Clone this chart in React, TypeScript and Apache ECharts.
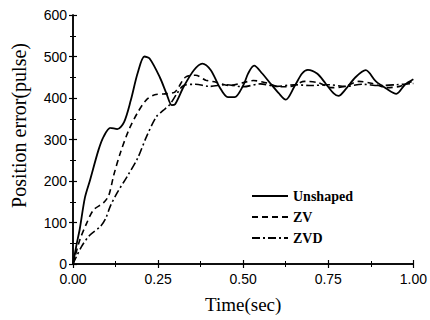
import React, { useEffect, useRef } from "react";
import * as echarts from "echarts";

const unshapedT = [0, 0.01, 0.02, 0.035, 0.05, 0.075, 0.09, 0.11, 0.13, 0.15, 0.17, 0.19, 0.21, 0.225, 0.255, 0.275, 0.29, 0.3, 0.325, 0.355, 0.38, 0.405, 0.43, 0.455, 0.475, 0.5, 0.515, 0.532, 0.556, 0.58, 0.605, 0.625, 0.65, 0.673, 0.69, 0.717, 0.742, 0.766, 0.78, 0.8, 0.83, 0.86, 0.89, 0.92, 0.95, 0.975, 1.0];
const unshapedY = [0, 45, 85, 160, 202, 275, 307, 328, 325, 342, 395, 460, 500, 495, 450, 410, 383, 385, 427, 467, 483, 467, 427, 402, 402, 430, 460, 478, 459, 435, 411, 396, 427, 459, 468, 459, 435, 411, 405, 420, 450, 467, 440, 423, 410, 432, 445];

const zvT = [0, 0.006, 0.02, 0.04, 0.06, 0.09, 0.105, 0.12, 0.14, 0.165, 0.19, 0.215, 0.24, 0.27, 0.3, 0.33, 0.36, 0.39, 0.42, 0.46, 0.5, 0.53, 0.57, 0.61, 0.64, 0.68, 0.72, 0.76, 0.8, 0.84, 0.88, 0.92, 0.96, 1.0];
const zvY = [0, 18, 58, 98, 130, 148, 165, 215, 270, 325, 365, 395, 408, 410, 415, 450, 455, 443, 438, 430, 437, 442, 436, 427, 428, 440, 437, 425, 428, 440, 435, 425, 428, 442];

const zvdT = [0, 0.025, 0.05, 0.08, 0.095, 0.11, 0.13, 0.16, 0.19, 0.215, 0.245, 0.265, 0.285, 0.305, 0.325, 0.36, 0.4, 0.45, 0.5, 0.55, 0.6, 0.65, 0.7, 0.75, 0.8, 0.85, 0.9, 0.95, 1.0];
const zvdY = [0, 42, 70, 90, 108, 140, 172, 212, 255, 305, 355, 370, 385, 410, 430, 433, 428, 432, 427, 434, 428, 432, 430, 432, 428, 433, 430, 432, 435];

const seriesNames = ["Unshaped", "ZV", "ZVD"];

const pair = (t: number[], y: number[]) => t.map((v, i) => [v, y[i]]);

export default function App() {
  const ref = useRef<HTMLDivElement>(null);
  useEffect(() => {
    if (!ref.current) return;
    const chart = echarts.init(ref.current, undefined, { renderer: "svg" });
    const sans = "Liberation Sans";
    const serif = "Liberation Serif";
    const axisCommon = {
      axisLine: { show: true, lineStyle: { color: "#000", width: 1.5 } },
      axisTick: { show: true, inside: true, length: 4, lineStyle: { color: "#000", width: 1.2 } },
      minorTick: { show: true, splitNumber: 2, length: 3, lineStyle: { color: "#000", width: 1 } },
      splitLine: { show: false },
    };
    chart.setOption({
      animation: false,
      backgroundColor: "#fff",
      grid: { left: 73, right: 15, top: 15, bottom: 56, show: false },
      legend: {
        orient: "vertical",
        left: 246,
        top: 184,
        itemWidth: 36,
        itemHeight: 12,
        itemGap: 7,
        data: seriesNames,
        itemStyle: { opacity: 0 },
        textStyle: { fontFamily: serif, fontWeight: "bold", fontSize: 14, color: "#000" },
      },
      xAxis: [
        {
          type: "value",
          min: 0,
          max: 1,
          interval: 0.25,
          name: "Time(sec)",
          nameLocation: "middle",
          nameGap: 31,
          nameTextStyle: { fontFamily: serif, fontSize: 19, color: "#000" },
          axisLabel: {
            color: "#000",
            fontFamily: sans,
            fontSize: 14,
            margin: 8,
            formatter: (v: number) => v.toFixed(2),
          },
          ...axisCommon,
        },
        {
          type: "value",
          position: "top",
          min: 0,
          max: 1,
          interval: 0.25,
          axisLabel: { show: false },
          ...axisCommon,
        },
      ],
      yAxis: [
        {
          type: "value",
          min: 0,
          max: 600,
          interval: 100,
          name: "Position error(pulse)",
          nameLocation: "middle",
          nameGap: 44,
          nameTextStyle: { fontFamily: serif, fontSize: 20, color: "#000", padding: [0, 0, 0, 28] },
          axisLabel: { color: "#000", fontFamily: sans, fontSize: 14, margin: 6, lineHeight: 12 },
          ...axisCommon,
        },
        {
          type: "value",
          position: "right",
          min: 0,
          max: 600,
          interval: 100,
          axisLabel: { show: false },
          ...axisCommon,
        },
      ],
      series: [
        {
          name: seriesNames[0],
          type: "line",
          data: pair(unshapedT, unshapedY),
          smooth: 0.3,
          showSymbol: false,
          symbol: "none",
          lineStyle: { color: "#000", width: 1.8, type: "solid" },
          itemStyle: { color: "#000" },
        },
        {
          name: seriesNames[1],
          type: "line",
          data: pair(zvT, zvY),
          smooth: 0.3,
          showSymbol: false,
          symbol: "none",
          lineStyle: { color: "#000", width: 1.6, type: [6, 4] },
          itemStyle: { color: "#000" },
        },
        {
          name: seriesNames[2],
          type: "line",
          data: pair(zvdT, zvdY),
          smooth: 0.3,
          showSymbol: false,
          symbol: "none",
          lineStyle: { color: "#000", width: 1.6, type: [8, 3, 2, 3] },
          itemStyle: { color: "#000" },
        },
      ],
    });
    return () => chart.dispose();
  }, []);
  return <div ref={ref} style={{ width: 430, height: 320, position: "absolute", left: 0, top: 0 }} />;
}
